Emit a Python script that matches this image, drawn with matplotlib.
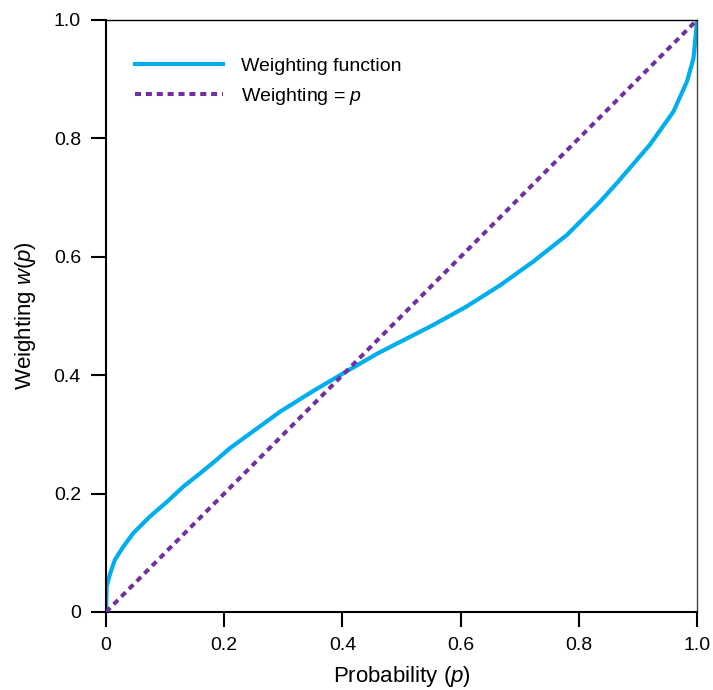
import matplotlib
matplotlib.use("Agg")
import matplotlib.pyplot as plt

plt.rcParams['font.family'] = ['Liberation Sans', 'DejaVu Sans']
plt.rcParams['mathtext.fontset'] = 'custom'
plt.rcParams['mathtext.rm'] = 'Liberation Sans'
plt.rcParams['mathtext.it'] = 'Liberation Sans:italic'

# values
p = [0, 0.0003, 0.001, 0.007, 0.015, 0.029, 0.046, 0.074, 0.103, 0.131,
     0.159, 0.187, 0.210, 0.25, 0.294, 0.35, 0.413, 0.46, 0.509, 0.554,
     0.610, 0.667, 0.723, 0.780, 0.836, 0.864, 0.920, 0.960, 0.983, 0.994,
     0.998, 1.0]
w = [0, 0.009, 0.043, 0.065, 0.088, 0.110, 0.133, 0.161, 0.186, 0.212,
     0.234, 0.257, 0.277, 0.306, 0.338, 0.373, 0.41, 0.437, 0.462, 0.485,
     0.516, 0.552, 0.592, 0.637, 0.693, 0.724, 0.789, 0.845, 0.896, 0.935,
     0.976, 1.0]
diag = [0, 1]

ticks = [0, 0.2, 0.4, 0.6, 0.8, 1.0]
tick_labels = ['0', '0.2', '0.4', '0.6', '0.8', '1.0']

fig = plt.figure(figsize=(7.13, 6.9), dpi=100)
ax = fig.add_axes([106/713, 78/690, 591/713, 592/690])

ax.plot(p, w, color='#00AEEF', lw=3, label='Weighting function', zorder=2,
        solid_joinstyle='round')
ax.plot(diag, diag, color='#7030A0', lw=2.9, linestyle=(0, (1.5, 1.2)),
        label='Weighting = $\\it{p}$', zorder=3)

ax.set_xlim(0, 1)
ax.set_ylim(0, 1)
ax.set_xticks(ticks)
ax.set_xticklabels(tick_labels)
ax.set_yticks(ticks)
ax.set_yticklabels(tick_labels)
ax.tick_params(direction='out', length=11, width=1.5, labelsize=14, pad=7)
ax.spines['top'].set_linewidth(1.0)
ax.spines['right'].set_linewidth(1.0)
ax.spines['right'].set_color('#444444')
ax.spines['bottom'].set_linewidth(1.5)
ax.spines['left'].set_linewidth(1.5)

ax.set_xlabel('Probability ($\\it{p}$)', fontsize=16, labelpad=7)
ax.set_ylabel('Weighting $\\it{w}$($\\it{p}$)', fontsize=16, labelpad=11)

ax.legend(loc='upper left', bbox_to_anchor=(0.02, 0.967), frameon=False,
          fontsize=14, handlelength=4.5, handletextpad=0.95, labelspacing=0.58)

fig.savefig('out.png', dpi=100)
